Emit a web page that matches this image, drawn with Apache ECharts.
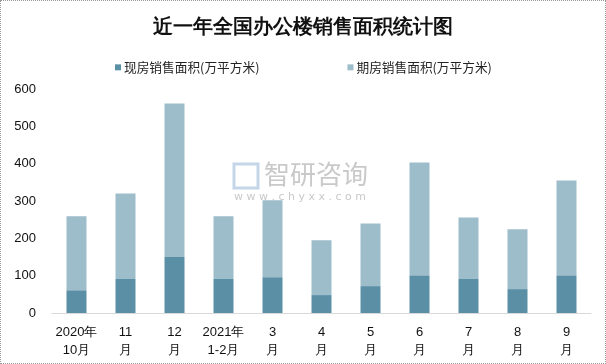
<!DOCTYPE html>
<html><head><meta charset="utf-8">
<script src="https://cdn.jsdelivr.net/npm/echarts@6/dist/echarts.min.js"></script>
<style>html,body{margin:0;padding:0;background:#fff}#c{width:604px;height:362px;border:1px dotted #999}</style>
</head><body><div id="c"></div>
<script>
const categories = ['2020年\n10月','11\n月','12\n月','2021年\n1-2月','3\n月','4\n月','5\n月','6\n月','7\n月','8\n月','9\n月'];
const existing = [61, 91, 150, 91, 96, 48, 72, 101, 91, 64, 101];
const futures = [198, 229, 411, 168, 206, 147, 168, 302, 165, 160, 254];
const yTicks = [0, 100, 200, 300, 400, 500, 600];
const chart = echarts.init(document.getElementById('c'));
chart.setOption({
  animation: false,
  title: {text: '近一年全国办公楼销售面积统计图', left: 'center', top: 12,
    textStyle: {fontFamily: 'serif', fontWeight: 'bold', fontSize: 20, color: '#111'}},
  legend: {top: 55, left: 109, itemGap: 88, itemWidth: 6, itemHeight: 6, icon: 'rect',
    textStyle: {fontSize: 12.7, color: '#222', fontFamily: 'Noto Sans CJK SC', padding: [0,0,0,-2]}},
  grid: {left: 51, right: 14, top: 88, bottom: 50},
  graphic: [
    {type: 'text', left: 263, top: 160, style: {text: '智研咨询', fontSize: 26, fill: '#c9c9c9', fontFamily: 'Noto Sans CJK SC'}},
    {type: 'text', left: 233, top: 191, style: {text: 'w w w . c h y x x . c o m', fontSize: 11, fill: '#c9c9c9', fontFamily: 'DejaVu Sans'}},
    {type: 'rect', shape: {x: 233, y: 163, width: 24, height: 24}, style: {fill: 'none', stroke: '#c5d6e8', lineWidth: 3}}
  ],
  xAxis: {type: 'category', data: categories,
    axisLine: {lineStyle: {color: '#d9d9d9'}}, axisTick: {show: false},
    axisLabel: {color: '#111', fontSize: 13, lineHeight: 18, margin: 10, interval: 0}},
  yAxis: {type: 'value', min: 0, max: 600, interval: 100,
    splitLine: {show: false}, axisLine: {show: false}, axisTick: {show: false},
    axisLabel: {color: '#111', fontSize: 13, margin: 16, formatter: v => yTicks.includes(v) ? String(v) : ''}},
  series: [
    {name: '现房销售面积(万平方米)', type: 'bar', stack: 's', data: existing, barWidth: 20, itemStyle: {color: '#5b8fa6'}},
    {name: '期房销售面积(万平方米)', type: 'bar', stack: 's', data: futures, barWidth: 20, itemStyle: {color: '#9ebdcb'}}
  ]
});
</script></body></html>
